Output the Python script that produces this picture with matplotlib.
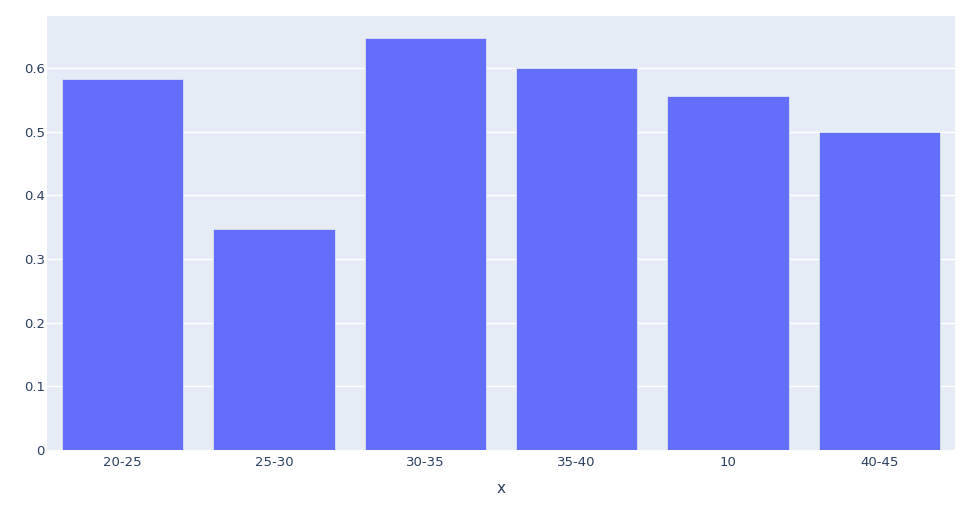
import matplotlib.pyplot as plt
import numpy as np

categories = ["20-25", "25-30", "30-35", "35-40", "10", "40-45"]
values = [0.5833, 0.3478, 0.6471, 0.6, 0.5556, 0.5]
yticks = [0, 0.1, 0.2, 0.3, 0.4, 0.5, 0.6]
ytick_labels = ["0", "0.1", "0.2", "0.3", "0.4", "0.5", "0.6"]

plt.rcParams['font.family'] = ['DejaVu Sans']
text_color = "#2a3f5f"

fig = plt.figure(figsize=(9.77, 5.29), dpi=100)
ax = fig.add_axes([47 / 977, 79 / 529, 908 / 977, 434 / 529])
ax.set_facecolor("#E5ECF6")

x = np.arange(len(categories))
ax.bar(x, values, width=0.8, color="#636EFA", edgecolor="#E5ECF6", linewidth=0.5, zorder=3)

ax.set_xlim(-0.5, len(categories) - 0.5)
ax.set_ylim(0, 0.682)
ax.set_xticks(x)
ax.set_xticklabels(categories)
ax.set_yticks(yticks)
ax.set_yticklabels(ytick_labels)
ax.grid(axis="y", color="white", linewidth=1, zorder=0)
ax.set_axisbelow(True)
ax.tick_params(length=0, labelsize=9.5, colors=text_color)
ax.tick_params(axis="x", pad=4)
ax.tick_params(axis="y", pad=1.5)
for s in ax.spines.values():
    s.set_visible(False)
ax.set_xlabel("x", fontsize=11, color=text_color, labelpad=9)

fig.savefig("out.png", dpi=100)
